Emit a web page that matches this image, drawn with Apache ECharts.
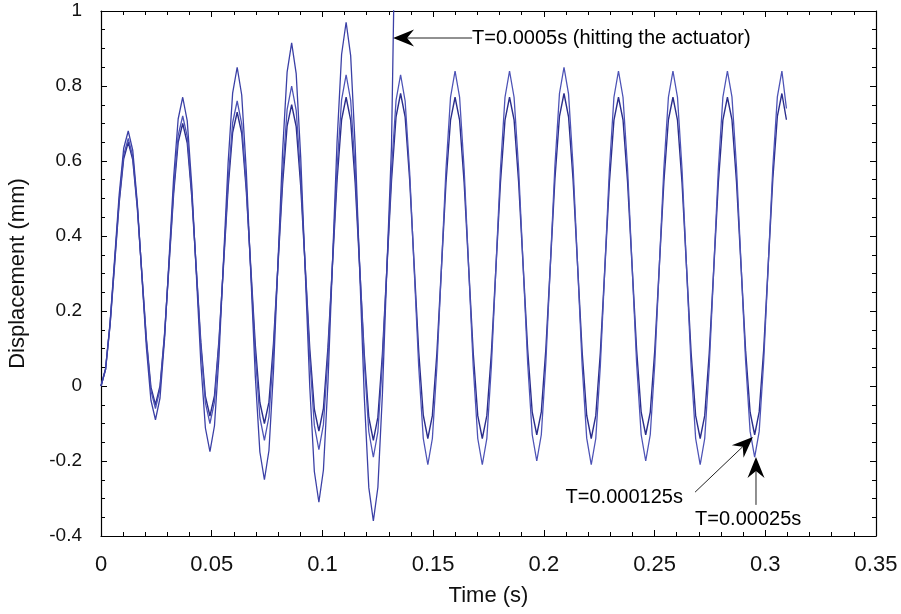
<!DOCTYPE html>
<html>
<head>
<meta charset="utf-8">
<script src="https://cdn.jsdelivr.net/npm/echarts@6/dist/echarts.min.js"></script>
<style>
html,body{margin:0;padding:0;background:#fff;}
#chart{width:901px;height:614px;}
</style>
</head>
<body>
<div id="chart"></div>
<script>
// Time samples (s)
const time = [
0, 0.00205, 0.0041, 0.00615, 0.0082, 0.01025, 0.0123, 0.01435, 0.0164, 0.01845, 0.0205, 0.02255,
0.0246, 0.02665, 0.0287, 0.03075, 0.0328, 0.03485, 0.0369, 0.03895, 0.041, 0.04305, 0.0451, 0.04715,
0.0492, 0.05125, 0.0533, 0.05535, 0.0574, 0.05945, 0.0615, 0.06355, 0.0656, 0.06765, 0.0697, 0.07175,
0.0738, 0.07585, 0.0779, 0.07995, 0.082, 0.08405, 0.0861, 0.08815, 0.0902, 0.09225, 0.0943, 0.09635,
0.0984, 0.10045, 0.1025, 0.10455, 0.1066, 0.10865, 0.1107, 0.11275, 0.1148, 0.11685, 0.1189, 0.12095,
0.123, 0.12505, 0.1271, 0.12915, 0.1312, 0.13325, 0.1353, 0.13735, 0.1394, 0.14145, 0.1435, 0.14555,
0.1476, 0.14965, 0.1517, 0.15375, 0.1558, 0.15785, 0.1599, 0.16195, 0.164, 0.16605, 0.1681, 0.17015,
0.1722, 0.17425, 0.1763, 0.17835, 0.1804, 0.18245, 0.1845, 0.18655, 0.1886, 0.19065, 0.1927, 0.19475,
0.1968, 0.19885, 0.2009, 0.20295, 0.205, 0.20705, 0.2091, 0.21115, 0.2132, 0.21525, 0.2173, 0.21935,
0.2214, 0.22345, 0.2255, 0.22755, 0.2296, 0.23165, 0.2337, 0.23575, 0.2378, 0.23985, 0.2419, 0.24395,
0.246, 0.24805, 0.2501, 0.25215, 0.2542, 0.25625, 0.2583, 0.26035, 0.2624, 0.26445, 0.2665, 0.26855,
0.2706, 0.27265, 0.2747, 0.27675, 0.2788, 0.28085, 0.2829, 0.28495, 0.2870, 0.28905, 0.2911, 0.29315,
0.2952, 0.29725, 0.2993, 0.30135, 0.3034, 0.30545, 0.3075, 0.30955
];

// Displacement (mm), sampling T = 0.000125 s
const dispT000125 = [
0, 0.044, 0.163, 0.325, 0.488, 0.606, 0.65, 0.603, 0.475, 0.30, 0.125, -0.003,
-0.05, 0.0, 0.138, 0.325, 0.513, 0.65, 0.70, 0.648, 0.505, 0.31, 0.115, -0.028,
-0.08, -0.026, 0.123, 0.325, 0.528, 0.676, 0.73, 0.674, 0.523, 0.315, 0.108, -0.044,
-0.10, -0.043, 0.113, 0.325, 0.538, 0.693, 0.75, 0.692, 0.533, 0.315, 0.098, -0.062,
-0.12, -0.06, 0.103, 0.325, 0.548, 0.71, 0.77, 0.709, 0.541, 0.313, 0.084, -0.084,
-0.145, -0.083, 0.086, 0.318, 0.549, 0.718, 0.78, 0.718, 0.55, 0.32, 0.09, -0.078,
-0.14, -0.079, 0.088, 0.315, 0.543, 0.709, 0.77, 0.709, 0.543, 0.315, 0.088, -0.079,
-0.14, -0.079, 0.088, 0.315, 0.543, 0.709, 0.77, 0.71, 0.545, 0.32, 0.095, -0.07,
-0.13, -0.069, 0.098, 0.325, 0.553, 0.719, 0.78, 0.718, 0.55, 0.32, 0.09, -0.078,
-0.14, -0.079, 0.088, 0.315, 0.543, 0.709, 0.77, 0.71, 0.545, 0.32, 0.095, -0.07,
-0.13, -0.07, 0.095, 0.32, 0.545, 0.71, 0.77, 0.709, 0.543, 0.315, 0.088, -0.079,
-0.14, -0.079, 0.088, 0.315, 0.543, 0.709, 0.77, 0.71, 0.545, 0.32, 0.095, -0.07,
-0.13, -0.069, 0.098, 0.325, 0.553, 0.719, 0.78, 0.71
];

// Displacement (mm), sampling T = 0.00025 s
const dispT00025 = [
0, 0.044, 0.165, 0.33, 0.495, 0.616, 0.66, 0.612, 0.48, 0.30, 0.12, -0.012,
-0.06, -0.008, 0.135, 0.33, 0.525, 0.668, 0.72, 0.665, 0.515, 0.31, 0.105, -0.045,
-0.10, -0.042, 0.115, 0.33, 0.545, 0.702, 0.76, 0.699, 0.534, 0.308, 0.081, -0.084,
-0.145, -0.082, 0.091, 0.328, 0.564, 0.737, 0.80, 0.735, 0.558, 0.315, 0.073, -0.105,
-0.17, -0.103, 0.08, 0.33, 0.58, 0.763, 0.83, 0.762, 0.575, 0.32, 0.065, -0.122,
-0.19, -0.122, 0.065, 0.32, 0.575, 0.762, 0.83, 0.76, 0.57, 0.31, 0.05, -0.14,
-0.21, -0.14, 0.053, 0.315, 0.578, 0.77, 0.84, 0.77, 0.578, 0.315, 0.053, -0.14,
-0.21, -0.14, 0.053, 0.315, 0.578, 0.77, 0.84, 0.77, 0.58, 0.32, 0.06, -0.13,
-0.20, -0.13, 0.063, 0.325, 0.588, 0.78, 0.85, 0.779, 0.585, 0.32, 0.055, -0.139,
-0.21, -0.14, 0.053, 0.315, 0.578, 0.77, 0.84, 0.77, 0.58, 0.32, 0.06, -0.13,
-0.20, -0.13, 0.06, 0.32, 0.58, 0.77, 0.84, 0.77, 0.578, 0.315, 0.053, -0.14,
-0.21, -0.14, 0.053, 0.315, 0.578, 0.77, 0.84, 0.771, 0.583, 0.325, 0.068, -0.121,
-0.19, -0.121, 0.068, 0.325, 0.583, 0.771, 0.84, 0.74
];

// Displacement (mm), sampling T = 0.0005 s (hits the actuator)
const dispT0005 = [
0, 0.046, 0.17, 0.34, 0.51, 0.634, 0.68, 0.628, 0.488, 0.295, 0.103, -0.038,
-0.09, -0.032, 0.125, 0.34, 0.555, 0.712, 0.77, 0.707, 0.534, 0.298, 0.061, -0.112,
-0.175, -0.106, 0.081, 0.338, 0.594, 0.781, 0.85, 0.776, 0.575, 0.30, 0.025, -0.176,
-0.25, -0.172, 0.041, 0.333, 0.624, 0.837, 0.915, 0.833, 0.609, 0.303, -0.004, -0.228,
-0.31, -0.224, 0.01, 0.33, 0.65, 0.884, 0.97, 0.881, 0.638, 0.305, -0.028, -0.271,
-0.36, -0.27, -0.02, 0.32, 0.64, 1.4
];

// Annotations (data units)
const annotations = [
  { text: 'T=0.0005s (hitting the actuator)', tx: 0.1676, ty: 0.928, align: 'left',
    from: [0.1676, 0.928], to: [0.1319, 0.928] },
  { text: 'T=0.000125s', tx: 0.2628, ty: -0.296, align: 'right',
    from: [0.2683, -0.283], to: [0.2944, -0.136] },
  { text: 'T=0.00025s', tx: 0.2683, ty: -0.355, align: 'left',
    from: [0.2958, -0.317], to: [0.2958, -0.189] }
];

const FONT = '"Liberation Sans", Arial, Helvetica, sans-serif';

function pairs(vals) { return vals.map((v, i) => [time[i], v]); }

const chart = echarts.init(document.getElementById('chart'), null, { renderer: 'canvas' });

const axisCommonX = {
  type: 'value', min: 0, max: 0.35, interval: 0.05,
  axisLine: { show: true, onZero: false, lineStyle: { color: '#000', width: 1.2 } },
  axisTick: { show: true, inside: true, length: 6, lineStyle: { color: '#000' } },
  minorTick: { show: true, splitNumber: 5, length: 4, lineStyle: { color: '#000' } },
  splitLine: { show: false }
};
const axisCommonY = {
  type: 'value', min: -0.4, max: 1, interval: 0.2,
  axisLine: { show: true, onZero: false, lineStyle: { color: '#000', width: 1.2 } },
  axisTick: { show: true, inside: true, length: 6, lineStyle: { color: '#000' } },
  minorTick: { show: true, splitNumber: 4, length: 4, lineStyle: { color: '#000' } },
  splitLine: { show: false }
};

const option = {
  animation: false,
  backgroundColor: '#fff',
  grid: { left: 101, right: 25, top: 11, bottom: 78, containLabel: false, outerBoundsMode: 'none' },
  xAxis: [
    Object.assign({}, axisCommonX, {
      position: 'bottom',
      name: 'Time (s)', nameLocation: 'middle', nameGap: 49,
      nameTextStyle: { fontFamily: FONT, fontSize: 22, color: '#111' },
      axisLabel: { show: true, fontFamily: FONT, fontSize: 22, color: '#111', margin: 18,
                   showMinLabel: true, showMaxLabel: true }
    }),
    Object.assign({}, axisCommonX, { position: 'top', axisLabel: { show: false } })
  ],
  yAxis: [
    Object.assign({}, axisCommonY, {
      position: 'left',
      name: 'Displacement (mm)', nameLocation: 'middle', nameGap: 72, nameRotate: 90,
      nameTextStyle: { fontFamily: FONT, fontSize: 22, color: '#111' },
      axisLabel: { show: true, fontFamily: FONT, fontSize: 19, color: '#111', margin: 19,
                   showMinLabel: true, showMaxLabel: true }
    }),
    Object.assign({}, axisCommonY, { position: 'right', axisLabel: { show: false } })
  ],
  series: [
    { name: 'T=0.000125s', type: 'line', data: pairs(dispT000125), showSymbol: false,
      symbol: 'none', clip: true, lineStyle: { color: '#2b2e8c', width: 1.4 } },
    { name: 'T=0.00025s', type: 'line', data: pairs(dispT00025), showSymbol: false,
      symbol: 'none', clip: true, lineStyle: { color: '#4d53b6', width: 1.3 } },
    { name: 'T=0.0005s', type: 'line', data: pairs(dispT0005), showSymbol: false,
      symbol: 'none', clip: true, lineStyle: { color: '#3b40a6', width: 1.3 } }
  ]
};
chart.setOption(option);

function px(p) { return chart.convertToPixel({ xAxisIndex: 0, yAxisIndex: 0 }, p); }

const graphics = [];
annotations.forEach(a => {
  const p0 = px(a.from), p1 = px(a.to);
  const dx = p1[0] - p0[0], dy = p1[1] - p0[1];
  const len = Math.sqrt(dx * dx + dy * dy);
  const ux = dx / len, uy = dy / len, nx = -uy, ny = ux;
  const L = 21, W = 8.5, notch = 7;
  const base = [p1[0] - L * ux, p1[1] - L * uy];
  const mid = [p1[0] - (L - notch) * ux, p1[1] - (L - notch) * uy];
  graphics.push({
    type: 'line', z: 50,
    shape: { x1: p0[0], y1: p0[1], x2: mid[0], y2: mid[1] },
    style: { stroke: '#222', lineWidth: 1 }
  });
  graphics.push({
    type: 'polygon', z: 51,
    shape: { points: [p1, [base[0] + W * nx, base[1] + W * ny], mid, [base[0] - W * nx, base[1] - W * ny]] },
    style: { fill: '#000' }
  });
  const tp = px([a.tx, a.ty]);
  graphics.push({
    type: 'text', z: 52, x: tp[0], y: tp[1],
    style: { text: a.text, fontFamily: FONT, fontSize: 20, fill: '#000',
             align: a.align, verticalAlign: 'middle' }
  });
});
chart.setOption({ graphic: graphics });
</script>
</body>
</html>
